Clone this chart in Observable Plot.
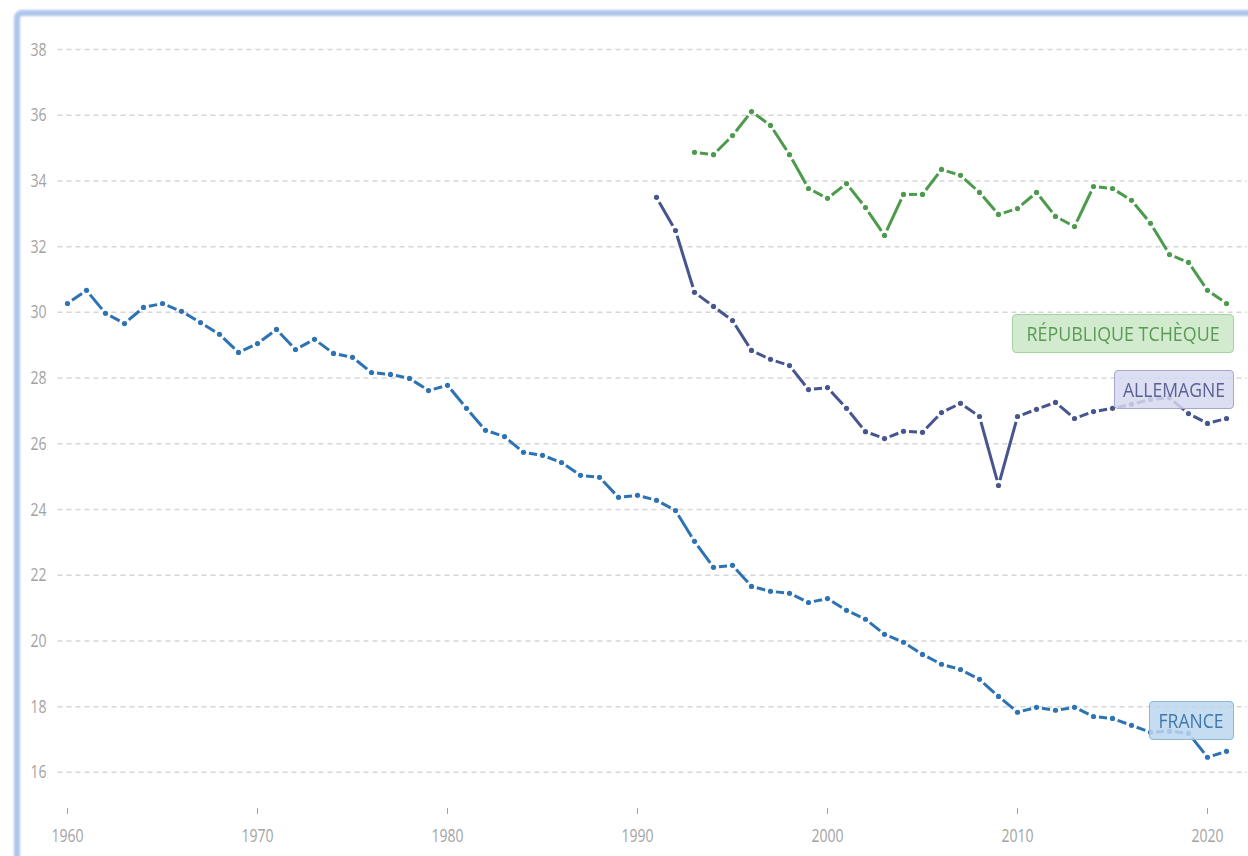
<!DOCTYPE html>
<html>
<head>
<meta charset="utf-8">
<script src="https://cdn.jsdelivr.net/npm/d3@7"></script>
<script src="https://cdn.jsdelivr.net/npm/@observablehq/plot@0.6"></script>
<style>
  html, body { margin: 0; padding: 0; background: #fff; overflow: hidden; width: 1248px; height: 856px; }
  #wrap { position: relative; width: 1248px; height: 856px; overflow: hidden; }
  #frame { position: absolute; left: 14px; top: 10px; width: 1300px; height: 900px; box-sizing: border-box;
           border: 6px solid #aec6ec; border-radius: 8px; filter: blur(1.1px); }
  #chart { position: absolute; left: 0; top: 0; }
  #chart svg text { font-family: "Open Sans", sans-serif; }
  .lab { position: absolute; box-sizing: border-box; height: 39px; border-radius: 4px; border: 1.5px solid;
         display: flex; align-items: center; justify-content: center; font-family: "Open Sans", sans-serif;
         font-size: 20px; white-space: nowrap; }
  .lab span { display: inline-block; transform-origin: center center; }
</style>
</head>
<body>
<div id="wrap">
  <div id="frame"></div>
  <div id="chart"></div>
</div>
<script>
// ---- Data ----
const franceYears = d3.range(1960, 2022);
const franceValues = [
  30.27, 30.67, 29.97, 29.66, 30.15, 30.27, 30.03, 29.69, 29.33, 28.78,
  29.05, 29.48, 28.87, 29.18, 28.75, 28.63, 28.17, 28.11, 27.99, 27.62,
  27.78, 27.08, 26.41, 26.22, 25.74, 25.65, 25.43, 25.04, 24.98, 24.37,
  24.43, 24.28, 23.97, 23.03, 22.24, 22.30, 21.66, 21.51, 21.45, 21.17,
  21.29, 20.93, 20.66, 20.20, 19.96, 19.59, 19.29, 19.13, 18.83, 18.31,
  17.83, 17.98, 17.89, 17.98, 17.70, 17.64, 17.43, 17.22, 17.25, 17.19,
  16.46, 16.64
];
const germanyYears = d3.range(1991, 2022);
const germanyValues = [
  33.50, 32.49, 30.61, 30.18, 29.75, 28.84, 28.57, 28.38, 27.65, 27.71,
  27.08, 26.37, 26.16, 26.38, 26.35, 26.95, 27.23, 26.83, 24.73, 26.83,
  27.05, 27.26, 26.77, 26.98, 27.08, 27.20, 27.35, 27.40, 26.92, 26.62,
  26.77
];
const czechYears = d3.range(1993, 2022);
const czechValues = [
  34.87, 34.80, 35.38, 36.11, 35.69, 34.80, 33.77, 33.47, 33.92, 33.19,
  32.34, 33.59, 33.59, 34.35, 34.17, 33.65, 32.98, 33.16, 33.65, 32.92,
  32.61, 33.83, 33.77, 33.41, 32.71, 31.76, 31.52, 30.67, 30.27
];
const seriesNames = ["FRANCE", "ALLEMAGNE", "RÉPUBLIQUE TCHÈQUE"];
const seriesColors = ["#2d73b3", "#47558f", "#4c9a4c"];
const yTicks = d3.range(16, 39, 2);
const xTicks = [1960, 1970, 1980, 1990, 2000, 2010, 2020];

// ---- Build tables ----
const allSeries = [
  {name: seriesNames[0], color: seriesColors[0], years: franceYears, values: franceValues},
  {name: seriesNames[1], color: seriesColors[1], years: germanyYears, values: germanyValues},
  {name: seriesNames[2], color: seriesColors[2], years: czechYears, values: czechValues}
];
const points = [];
const segments = [];
for (const s of allSeries) {
  s.years.forEach((yr, i) => {
    points.push({name: s.name, color: s.color, year: yr, value: s.values[i]});
    if (i > 0) segments.push({name: s.name, color: s.color,
      x1: s.years[i - 1], y1: s.values[i - 1], x2: yr, y2: s.values[i]});
  });
}

const chart = Plot.plot({
  width: 1248,
  height: 856,
  marginLeft: 67,
  marginRight: 22,
  marginTop: 49,
  marginBottom: 48,
  x: {domain: [1960, 2021]},
  y: {domain: [14.9, 38]},
  style: {background: "transparent", overflow: "hidden"},
  marks: [
    Plot.ruleY(yTicks, {x1: 1959.5, x2: 2022.1, stroke: "#d6d6d6", strokeWidth: 1.5, strokeDasharray: "5,4"}),
    Plot.axisY({ticks: yTicks, tickSize: 0, tickPadding: 21, fontSize: 19, color: "#a3a3a3", label: null, className: "tick-y"}),
    Plot.axisX({ticks: xTicks, tickSize: 6, tickPadding: 14, fontSize: 19, color: "#a3a3a3", label: null,
                tickFormat: d => String(d), className: "tick-x"}),
    Plot.arrow(segments, {x1: "x1", y1: "y1", x2: "x2", y2: "y2", stroke: "color", strokeWidth: 3,
                headLength: 0, insetStart: 5.5, insetEnd: 5.5, strokeLinecap: "butt"}),
    Plot.dot(points, {x: "year", y: "value", r: 2.6, fill: "color", stroke: null})
  ]
});
document.getElementById("chart").appendChild(chart);

// condense tick label glyphs horizontally (reference font is narrow)
chart.querySelectorAll("text").forEach(t => {
  const tr = t.getAttribute("transform") || "";
  t.setAttribute("transform", (tr + " scale(0.74,1)").trim());
});

// ---- Series labels (end-of-line tags) ----
const labels = [
  {text: seriesNames[2], color: "#5b9a56", bg: "rgba(200,230,196,0.82)", border: "#a6d2a1", left: 1012, top: 314, width: 222, textWidth: 193},
  {text: seriesNames[1], color: "#5a6194", bg: "rgba(214,216,238,0.85)", border: "#a2a8cf", left: 1114, top: 370, width: 120, textWidth: 102},
  {text: seriesNames[0], color: "#3f78ad", bg: "rgba(188,214,238,0.85)", border: "#8fb5d9", left: 1149, top: 701, width: 85, textWidth: 65}
];
const wrap = document.getElementById("wrap");
for (const l of labels) {
  const div = document.createElement("div");
  div.className = "lab";
  div.style.left = l.left + "px";
  div.style.top = l.top + "px";
  div.style.width = l.width + "px";
  div.style.background = l.bg;
  div.style.borderColor = l.border;
  div.style.color = l.color;
  const span = document.createElement("span");
  span.textContent = l.text;
  div.appendChild(span);
  wrap.appendChild(div);
  const w = span.getBoundingClientRect().width;
  span.style.transform = `scaleX(${l.textWidth / w})`;
}
</script>
</body>
</html>
